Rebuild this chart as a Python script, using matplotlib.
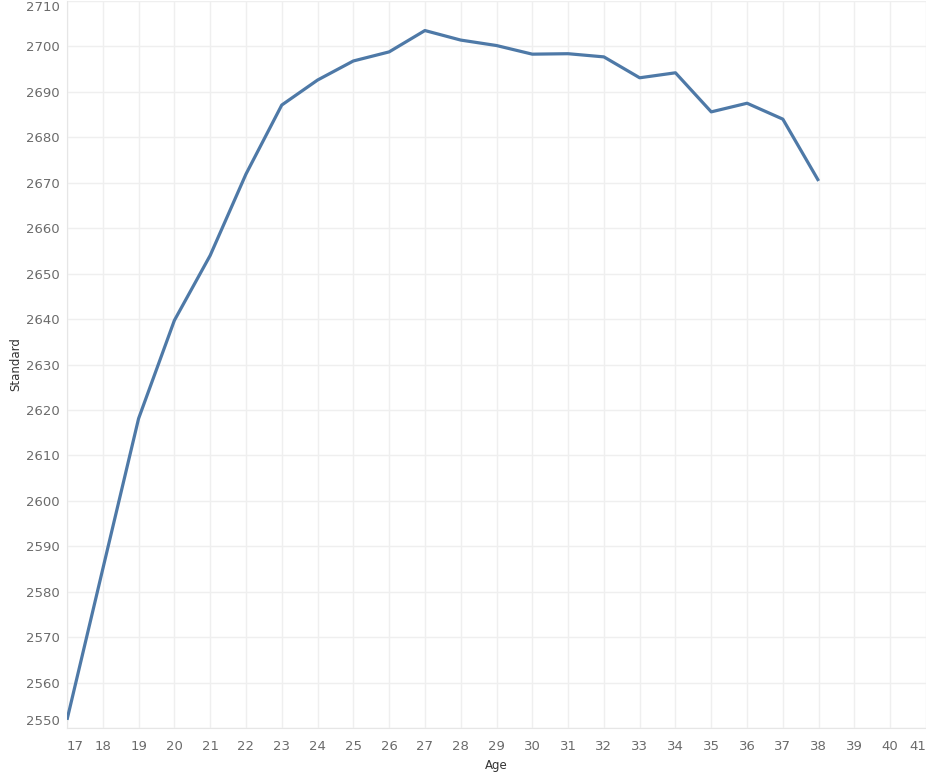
import matplotlib
matplotlib.use('Agg')
import matplotlib.pyplot as plt

age = [17, 18, 19, 20, 21, 22, 23, 24, 25, 26, 27, 28, 29, 30, 31, 32, 33, 34, 35, 36, 37, 38]
standard = [2551.8, 2585.0, 2618.1, 2639.7, 2654.0, 2671.9, 2687.1, 2692.6, 2696.8, 2698.8,
            2703.5, 2701.4, 2700.2, 2698.3, 2698.4, 2697.7, 2693.1, 2694.2, 2685.6, 2687.5,
            2684.0, 2670.4]
x_ticks = list(range(17, 42))
y_ticks = list(range(2550, 2711, 10))

W, H = 926, 782
fig = plt.figure(figsize=(W / 100, H / 100), dpi=100)
ax = fig.add_axes([67 / W, (H - 728) / H, (W - 67) / W, 727 / H])

ax.plot(age, standard, color='#4e79a7', linewidth=2.3, solid_capstyle='butt', zorder=3)

ax.set_xlim(17, 41)
ax.set_ylim(2550, 2710)
ax.set_xticks(x_ticks)
ax.set_yticks(y_ticks)
ax.grid(True, color='#efefef', linewidth=1)
ax.set_axisbelow(True)
for s in ax.spines.values():
    s.set_visible(False)
ax.spines['left'].set_visible(True)
ax.spines['bottom'].set_visible(True)
ax.spines['left'].set_color('#e6e6e6')
ax.spines['bottom'].set_color('#e6e6e6')

ax.tick_params(axis='both', length=0, labelsize=9.5, labelcolor='#6b6b6b')
ax.tick_params(axis='x', pad=9)
ax.tick_params(axis='y', pad=5)

xl = ax.get_xticklabels()
xl[0].set_horizontalalignment('left')
xl[-1].set_horizontalalignment('right')
yl = ax.get_yticklabels()
yl[0].set_verticalalignment('bottom')
yl[-1].set_verticalalignment('top')

ax.set_xlabel('Age', fontsize=8.5, color='#333333', labelpad=4)
ax.set_ylabel('Standard', fontsize=8.5, color='#333333', labelpad=3)

fig.savefig('out.png', dpi=100)
